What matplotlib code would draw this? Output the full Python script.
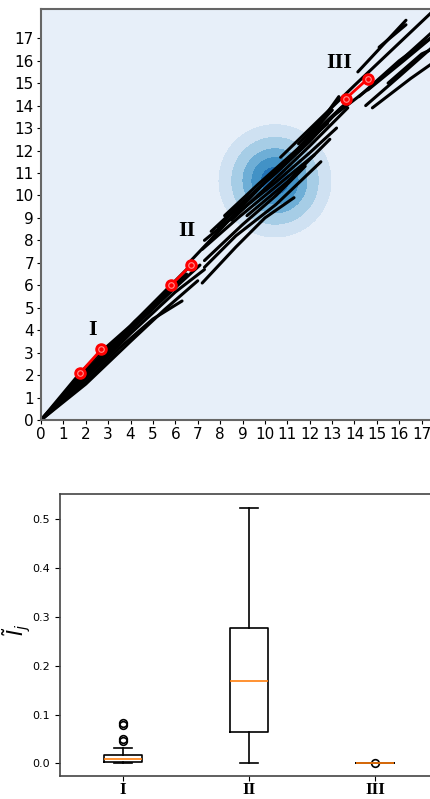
import numpy as np
import matplotlib
matplotlib.use("Agg")
import matplotlib.pyplot as plt

# trajectories (data coords)
traj_x = [
    [0, 1.75, 2.75, 4.0, 5.0, 5.8],
    [0, 2.0, 4.0, 5.0, 6.5],
    [0, 2.0, 4.0, 6.0, 7.1],
    [0, 2.0, 4.0, 6.0, 7.3],
    [0, 2.0, 3.5, 5.0, 6.3],
    [0, 2.0, 4.0, 5.5, 7.0],
    [0, 1.5, 3.0, 4.5, 6.0, 6.6],
    [0, 2.2, 3.8],
    [0, 1.0, 2.5, 4.2, 5.6],
    [7.6, 9.0, 10.5, 12.0, 13.4],
    [7.3, 9.0, 10.5, 12.0, 13.2],
    [7.2, 8.8, 10.5, 12.2],
    [7.3, 9.0, 10.5, 11.8],
    [7.3, 8.7, 10.5, 12.5],
    [7.2, 8.7, 10.0, 11.3],
    [6.7, 8.5, 10.2, 12.0, 13.3],
    [8.2, 9.7, 11.5, 13.0],
    [8.5, 10.0, 12.0, 13.7],
    [9.2, 11.0, 12.9],
    [7.9, 9.5, 11.2, 12.8],
    [10.7, 14.0, 17.6],
    [14.15, 16.3],
    [15.1, 16.3],
    [14.5, 16.0, 18.5],
    [14.8, 16.5, 18.5],
    [14.2, 16.0, 18.5],
    [12.0, 13.5],
    [11.5, 13.0],
    [13.0, 14.7, 16.5, 18.5],
    [15.5, 17.0, 18.5],
    [14.6, 16.2, 18.5],
]
traj_y = [
    [0, 2.1, 3.1, 4.2, 5.2, 6.0],
    [0, 2.2, 4.15, 5.1, 6.5],
    [0, 2.0, 4.0, 5.9, 6.9],
    [0, 1.85, 3.85, 5.7, 6.7],
    [0, 1.7, 3.2, 4.5, 5.3],
    [0, 1.6, 3.5, 4.9, 6.2],
    [0, 1.6, 3.05, 4.6, 6.2, 6.8],
    [0, 2.3, 3.9],
    [0, 1.1, 2.6, 4.4, 5.6],
    [8.4, 9.7, 11.0, 12.4, 13.9],
    [8.0, 9.4, 10.6, 11.9, 13.0],
    [7.6, 9.0, 10.4, 11.8],
    [7.1, 8.7, 10.0, 11.3],
    [6.8, 8.2, 9.6, 11.5],
    [6.1, 7.7, 9.0, 9.9],
    [7.1, 9.0, 10.8, 12.6, 14.4],
    [9.1, 10.5, 12.1, 13.8],
    [8.9, 10.3, 12.2, 13.9],
    [9.1, 10.6, 12.5],
    [8.6, 10.1, 11.8, 13.2],
    [11.7, 14.9, 18.3],
    [15.5, 17.8],
    [16.6, 17.6],
    [14.0, 15.3, 17.5],
    [13.9, 15.2, 16.6],
    [14.4, 16.0, 17.8],
    [12.6, 14.0],
    [12.3, 13.8],
    [13.5, 14.8, 16.4, 18.2],
    [15.0, 16.3, 17.0],
    [14.7, 16.0, 17.9],
]

# highlighted segments
seg_names = ["I", "II", "III"]
seg_x = [[1.75, 2.7], [5.8, 6.7], [13.6, 14.6]]
seg_y = [[2.1, 3.15], [6.0, 6.9], [14.3, 15.2]]
label_x = [2.3, 6.5, 13.3]
label_y = [4.0, 8.4, 15.9]

# density blob
blob_center = (10.45, 10.65)
blob_radii = [2.5, 1.93, 1.43, 1.03, 0.6]
blob_colors = ["#cfe1f2", "#a6cde6", "#6eaed6", "#4292c6", "#2171b5"]

# box statistics
box_labels = ["I", "II", "III"]
box_med = [0.0095, 0.168, 0.001]
box_q1 = [0.003, 0.065, 0.0005]
box_q3 = [0.017, 0.278, 0.0015]
box_lo = [0.001, 0.0, 0.0005]
box_hi = [0.031, 0.524, 0.0015]
box_fliers = [[0.046, 0.050, 0.079, 0.083], [], [0.001]]

fig = plt.figure(figsize=(4.3, 7.99), dpi=100)

ax = fig.add_axes([0.0953, 0.4743, 0.953, 0.5144])
ax.set_facecolor("#e7eff9")
gx, gy = np.meshgrid(np.linspace(0, 18.3, 400), np.linspace(0, 18.3, 400))
r2 = (gx - blob_center[0]) ** 2 + (gy - blob_center[1]) ** 2
dens = np.exp(-r2 / 2.0)
levels = [np.exp(-r ** 2 / 2.0) for r in blob_radii] + [1.01]
ax.contourf(gx, gy, dens, levels=levels, colors=blob_colors, zorder=1)

for xs, ys in zip(traj_x, traj_y):
    ax.plot(xs, ys, color="black", lw=2.2, solid_capstyle="round", zorder=2)

for xs, ys, name, lx, ly in zip(seg_x, seg_y, seg_names, label_x, label_y):
    ax.plot(xs, ys, "-o", color="red", lw=2, ms=8, zorder=4)
    ax.plot(xs, ys, "o", ms=4, mfc="none", mec="#ff9090", mew=0.8, zorder=5)
    ax.text(lx, ly, name, family="Liberation Serif", weight="bold",
            fontsize=16, ha="center", va="center", zorder=6)

ax.set_xlim(0, 18.3)
ax.set_ylim(0, 18.3)
ax.set_xticks(range(18))
ax.set_yticks(range(18))
ax.tick_params(labelsize=11, length=3, pad=2)
for s in ax.spines.values():
    s.set_color("#666666")
    s.set_linewidth(1.5)

bx = fig.add_axes([0.1395, 0.0288, 0.879, 0.353])
stats = []
for i in range(3):
    stats.append(dict(med=box_med[i], q1=box_q1[i], q3=box_q3[i],
                      whislo=box_lo[i], whishi=box_hi[i],
                      fliers=box_fliers[i], label=box_labels[i]))
bx.bxp(stats, widths=0.3,
       boxprops=dict(lw=1.2), whiskerprops=dict(lw=1.2), capprops=dict(lw=1.2),
       medianprops=dict(color="#ff7f0e", lw=1.2),
       flierprops=dict(marker="o", mfc="none", mec="black", ms=5.5, mew=1.2))
bx.set_xlim(0.5, 3.5)
bx.set_ylim(-0.026, 0.552)
bx.set_yticks([0.0, 0.1, 0.2, 0.3, 0.4, 0.5])
bx.tick_params(axis="y", labelsize=8)
bx.tick_params(axis="x", pad=1)
for t in bx.get_xticklabels():
    t.set_family("Liberation Serif")
    t.set_weight("bold")
    t.set_fontsize(12.5)
bx.set_ylabel(r"$\tilde{I}_j$", fontsize=15)
bx.yaxis.set_label_coords(-0.072, 0.52)
for s in bx.spines.values():
    s.set_color("#444444")
    s.set_linewidth(1.2)

fig.savefig("out.png", dpi=100)
